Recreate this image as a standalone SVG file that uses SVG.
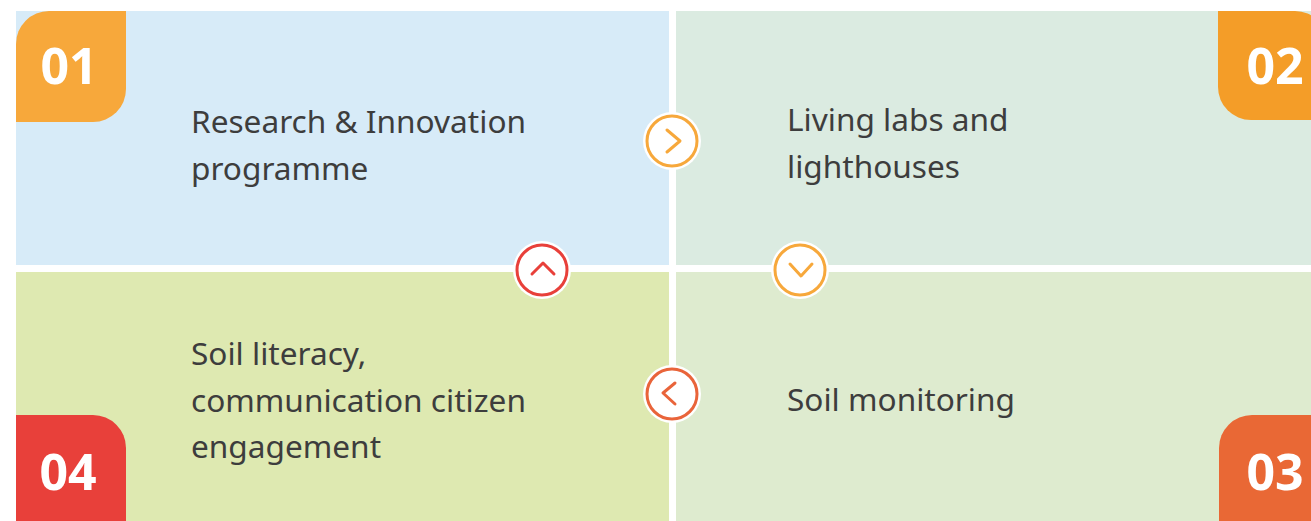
<svg xmlns="http://www.w3.org/2000/svg" width="1311" height="521" viewBox="0 0 1311 521">
  <style>
    .lbl { font-family: "Noto Sans", "Open Sans", sans-serif; font-size: 31.6px; fill: #3d3d3d; }
    .num { font-family: "Noto Sans", "Open Sans", sans-serif; font-size: 50px; font-weight: 700; fill: #ffffff; text-anchor: middle; }
    .halo { fill: #ffffff; }
    .ring { fill: #ffffff; stroke-width: 3; }
    .chev { fill: none; stroke-width: 3; stroke-linecap: round; stroke-linejoin: round; }
  </style>
  <rect width="1311" height="521" fill="#ffffff"/>
  <g id="node-01">
    <rect x="16" y="11" width="653" height="254" fill="#d7ebf8"/>
    <path d="M16,44 A33,33 0 0 1 49,11 H126 V89 A33,33 0 0 1 93,122 H16 Z" fill="#f7a83b"/>
    <text class="num" x="69" y="84">01</text>
    <text class="lbl" x="191" y="133">Research &amp; Innovation</text>
    <text class="lbl" x="191" y="180">programme</text>
  </g>
  <g id="node-02">
    <rect x="676" y="11" width="640" height="254" fill="#dbebe1"/>
    <path d="M1218,11 H1295 A33,33 0 0 1 1328,44 V120 H1251 A33,33 0 0 1 1218,87 Z" fill="#f49d28"/>
    <text class="num" x="1275" y="84">02</text>
    <text class="lbl" x="787" y="131">Living labs and</text>
    <text class="lbl" x="787" y="178">lighthouses</text>
  </g>
  <g id="node-03">
    <rect x="676" y="272" width="640" height="260" fill="#deebcf"/>
    <path d="M1219,448 A33,33 0 0 1 1252,415 H1330 V530 H1219 Z" fill="#e96835"/>
    <text class="num" x="1275" y="490">03</text>
    <text class="lbl" x="787" y="411">Soil monitoring</text>
  </g>
  <g id="node-04">
    <rect x="16" y="272" width="653" height="260" fill="#dee9b1"/>
    <path d="M16,415 H93 A33,33 0 0 1 126,448 V530 H16 Z" fill="#e8403a"/>
    <text class="num" x="68" y="490">04</text>
    <text class="lbl" x="191" y="365">Soil literacy,</text>
    <text class="lbl" x="191" y="412">communication citizen</text>
    <text class="lbl" x="191" y="458">engagement</text>
  </g>
  <g id="connectors">
    <g id="arrow-01-02">
      <circle class="halo" cx="672" cy="141" r="29"/>
      <circle class="ring" cx="672" cy="141" r="25" stroke="#f7a83b"/>
      <polyline class="chev" points="667,130 680,141 667,152" stroke="#f7a83b"/>
    </g>
    <g id="arrow-02-03">
      <circle class="halo" cx="800" cy="270" r="29"/>
      <circle class="ring" cx="800" cy="270" r="25" stroke="#f7a83b"/>
      <polyline class="chev" points="790,264 801,276 812,264" stroke="#f7a83b"/>
    </g>
    <g id="arrow-03-04">
      <circle class="halo" cx="672" cy="394" r="29"/>
      <circle class="ring" cx="672" cy="394" r="25" stroke="#e9643a"/>
      <polyline class="chev" points="675,383 663,393 675,404" stroke="#e9643a"/>
    </g>
    <g id="arrow-04-01">
      <circle class="halo" cx="542" cy="270" r="29"/>
      <circle class="ring" cx="542" cy="270" r="25" stroke="#e8403a"/>
      <polyline class="chev" points="532,274 543,263 554,274" stroke="#e8403a"/>
    </g>
  </g>
</svg>
